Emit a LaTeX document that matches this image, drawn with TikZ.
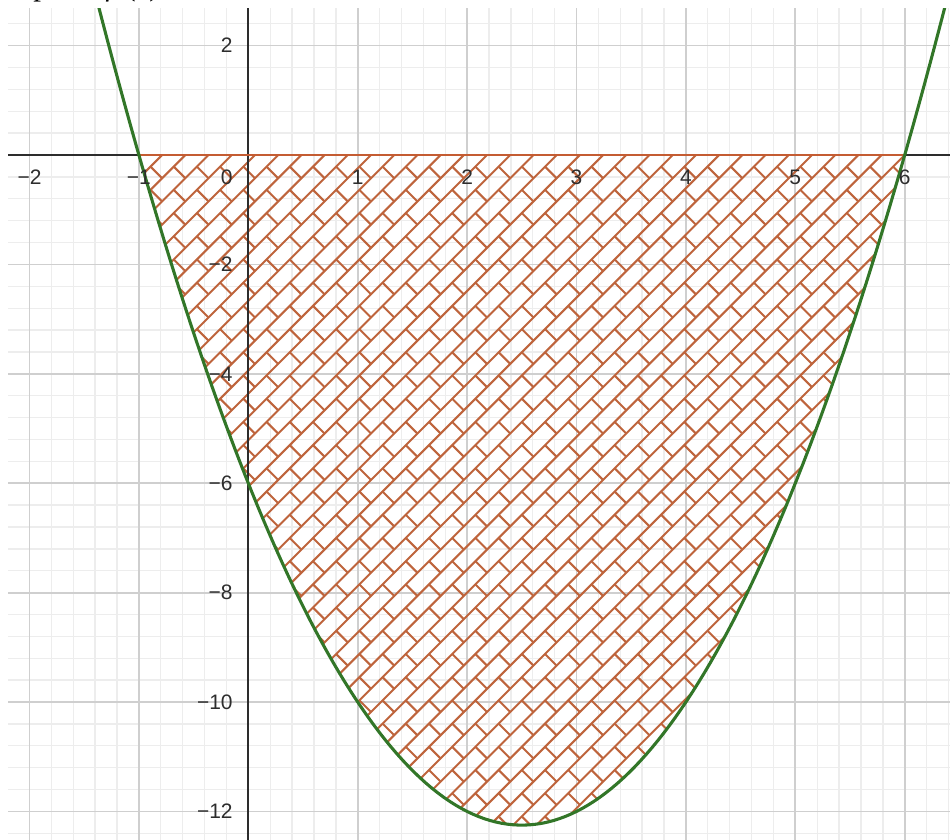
\documentclass[tikz,border=0pt]{standalone}
\usepackage{fontspec}
\setmainfont{Liberation Serif}
\newfontfamily\ticksans{Liberation Sans}
\usepackage{tikz}
\definecolor{curvegreen}{RGB}{50,118,40}
\definecolor{brickorange}{RGB}{190,100,60}
\definecolor{edgeorange}{RGB}{196,92,50}
\definecolor{axisgray}{RGB}{45,45,45}
\definecolor{labelgray}{RGB}{45,45,45}

\begin{document}
\begin{tikzpicture}[x=2cm, y=1cm,
    minorgrid/.style={gray!14, line width=0.7pt},
    majorgrid/.style={gray!38, line width=0.9pt},
    brickline/.style={brickorange, line width=1.05pt},
    ticklabel/.style={font=\ticksans\fontsize{10.9}{12}\selectfont, text=labelgray, inner sep=0pt}]
  \useasboundingbox (-2.2697,-12.505) rectangle (6.414,2.834);
  % Titulo (cortado)
  \node[anchor=base west, inner sep=0pt, font=\fontsize{16.1}{19}\selectfont] (titulo) at (-2.393,2.916) {Graph of \textit{f}\kern4pt(\textit{x})};
  \begin{scope}
    \clip (-2.1965,-12.505) rectangle (6.414,2.687);
    % Grade
    \draw[minorgrid] (-2.4,-12.8) grid[xstep=0.2, ystep=0.4] (6.6,2.8);
    \draw[majorgrid] (-2.4,-12.8) grid[xstep=1, ystep=2] (6.6,2.8);
    % Area sombreada
    \begin{scope}
      \clip plot[domain=-1:6, samples=120] (\x, {(\x+1)*(\x-6)}) -- cycle;
      \begin{scope}[shift={(-1,0)}, x=1cm, y=1cm, rotate=45, brickline]
        \foreach \k in {-64,...,1} \draw (-9.6,\k*0.3) -- (10.5,\k*0.3);
        \foreach \m [evaluate=\m as \ph using {0.3*mod(\m+64,2)}] in {-32,...,35}
          \draw[dash pattern=on 0.3cm off 0.3cm, dash phase=\ph cm] (\m*0.3,-19.2) -- (\m*0.3,0.6);
      \end{scope}
    \end{scope}
    % Eixos
    \draw[axisgray, line width=1pt] (-2.3,0) -- (6.5,0);
    \draw[axisgray, line width=1pt] (0,-12.6) -- (0,2.8);
    \draw[edgeorange, line width=1.1pt] (-1,0) -- (6,0);
    % Parabola
    \draw[curvegreen, line width=1.6pt] plot[domain=-1.45:6.45, samples=150] (\x, {(\x+1)*(\x-6)});
  \end{scope}
  % Rotulos
  \foreach \i/\t in {-2/−2, -1/−1, 1/1, 2/2, 3/3, 4/4, 5/5, 6/6}
    \node[ticklabel] (xl\i) at (\i,-0.4) {\t};
  \node[ticklabel, anchor=east] (xl0) at (-0.14,-0.4) {0};
  \foreach \j/\t in {2/2, -2/−2, -4/−4, -6/−6, -8/−8, -10/−10, -12/−12}
    \node[ticklabel, anchor=east] (yl\j) at (-0.14,\j) {\t};
\end{tikzpicture}
\end{document}
